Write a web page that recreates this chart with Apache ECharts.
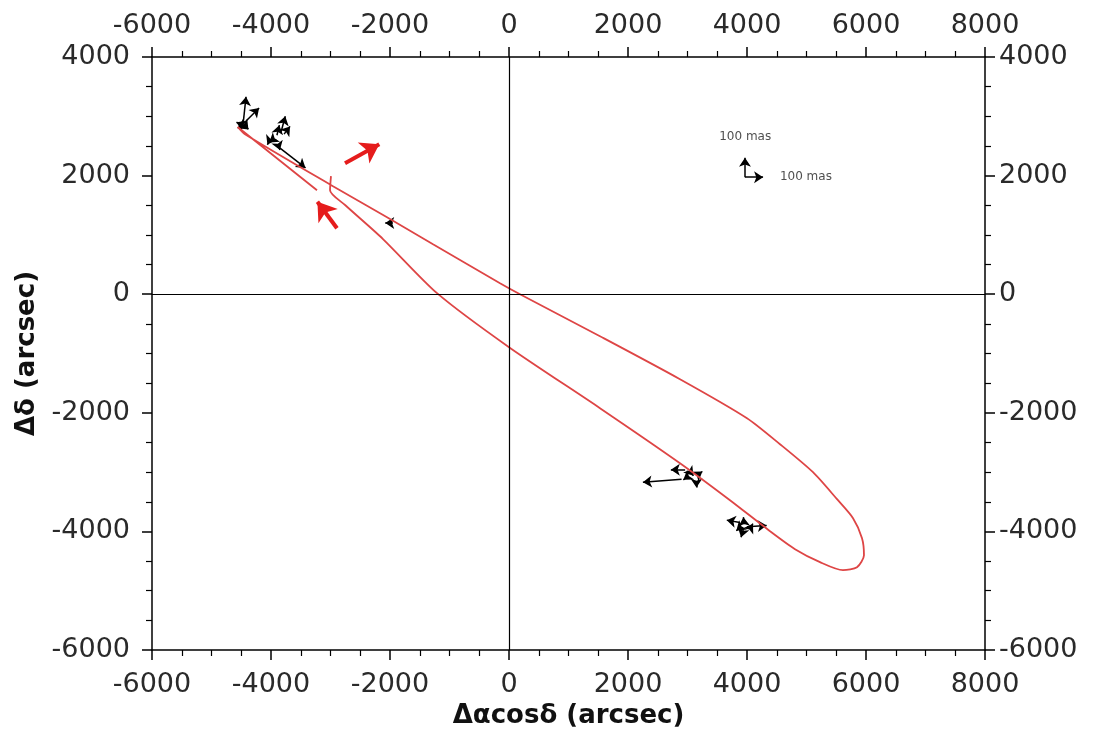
<!DOCTYPE html>
<html lang="en">
<head>
<meta charset="UTF-8" />
<title>orbit</title>
<script src="https://cdn.jsdelivr.net/npm/echarts@6/dist/echarts.min.js"></script>
<style>
  html, body { margin: 0; padding: 0; background: #fff; }
  #main { width: 1095px; height: 729px; }
</style>
</head>
<body>
<div id="main"></div>
<script>
// apparent orbit (arcsec), in drawing order
var orbit = [
  [-3227, 1754], [-4560, 2820], [-4437, 2698], [-2958, 1821], [-2050, 1298],
  [-1277, 843], [-151, 186], [185, 0], [1529, -708], [2874, -1433],
  [4000, -2091], [4555, -2530], [5109, -3002], [5513, -3457], [5782, -3777],
  [5933, -4115], [5966, -4401], [5849, -4604], [5613, -4654], [5227, -4519],
  [4807, -4300], [4387, -3997], [3714, -3474], [2874, -2850], [1529, -1922],
  [0, -894], [-1210, 17], [-2118, 930], [-2750, 1500], [-3008, 1754], [-2992, 1990]
];

// measured offsets with their motion vectors: x0, y0, x1, y1
var vectors = [
  [-4470, 2860, -4420, 3330], [-4460, 2880, -4200, 3140], [-4520, 2870, -4580, 2900],
  [-4430, 2840, -4380, 2780], [-4500, 2830, -4560, 2800],
  [-3830, 2740, -3760, 3000], [-3780, 2700, -3680, 2830], [-3900, 2680, -3860, 2850],
  [-3950, 2620, -4030, 2560], [-3880, 2520, -3850, 2430], [-3870, 2480, -3420, 2130],
  [-4030, 2580, -4060, 2520],
  [-1950, 1200, -2080, 1200],
  [2900, -3120, 2250, -3170], [2960, -2960, 2720, -2960], [3150, -3060, 3250, -2990],
  [3150, -3150, 3150, -3260], [3000, -3080, 2930, -3130], [3050, -3000, 3100, -3060],
  [3880, -3850, 3660, -3810], [3950, -3880, 3940, -3760], [4000, -3920, 4330, -3900],
  [3940, -3960, 3900, -4100], [3900, -3920, 3820, -3990], [4050, -3950, 4100, -3870]
];

// 100 mas scale arrows
var scaleVectors = [
  [3966, 1973, 3966, 2300],
  [3966, 1973, 4270, 1973]
];
var scaleLabels = [
  [3970, 2660, '100 mas'],
  [4990, 1973, '100 mas']
];

// direction-of-motion arrows
var motionArrows = [
  [-2756, 2209, -2180, 2530],
  [-2891, 1113, -3220, 1560]
];

var xMin = -6000, xMax = 8000, yMin = -6000, yMax = 4000, step = 2000;

var font = 'DejaVu Sans';
var labelStyle = {
  color: '#2a2a2a', fontSize: 27, fontFamily: font,
  formatter: function (v) { return String(v); }
};

function toLines(list) {
  return list.map(function (v) { return { coords: [[v[0], v[1]], [v[2], v[3]]] }; });
}

function xAxisDef(pos, withName, margin) {
  return {
    type: 'value', position: pos, min: xMin, max: xMax, interval: step,
    name: withName ? 'Δαcosδ (arcsec)' : '',
    nameLocation: 'middle', nameGap: 49,
    nameTextStyle: { color: '#111', fontSize: 26, fontWeight: 'bold', fontFamily: font },
    axisLine: { onZero: false, lineStyle: { color: '#000', width: 1.5 } },
    axisTick: { inside: false, length: 10, lineStyle: { color: '#000', width: 1.5 } },
    minorTick: { show: true, splitNumber: 4, length: 6, lineStyle: { color: '#000', width: 1.2 } },
    axisLabel: Object.assign({ margin: margin }, labelStyle),
    splitLine: { show: false }
  };
}

function yAxisDef(pos, withName, margin) {
  return {
    type: 'value', position: pos, min: yMin, max: yMax, interval: step,
    name: withName ? 'Δδ (arcsec)' : '',
    nameLocation: 'middle', nameGap: 112, nameRotate: 90,
    nameTextStyle: { color: '#111', fontSize: 26, fontWeight: 'bold', fontFamily: font },
    axisLine: { onZero: false, lineStyle: { color: '#000', width: 1.5 } },
    axisTick: { inside: false, length: 10, lineStyle: { color: '#000', width: 1.5 } },
    minorTick: { show: true, splitNumber: 4, length: 6, lineStyle: { color: '#000', width: 1.2 } },
    axisLabel: Object.assign({ margin: margin }, labelStyle),
    splitLine: { show: false }
  };
}

var myChart = echarts.init(document.getElementById('main'));
var option = {
  animation: false,
  backgroundColor: '#fff',
  grid: { left: 152, right: 110, top: 57, bottom: 79, containLabel: false, outerBoundsMode: 'none' },
  xAxis: [xAxisDef('bottom', true, 21), xAxisDef('top', false, 18)],
  yAxis: [yAxisDef('left', true, 22), yAxisDef('right', false, 14)],
  series: [
    {
      // zero lines
      type: 'line', xAxisIndex: 0, yAxisIndex: 0, data: [], silent: true,
      markLine: {
        silent: true, symbol: 'none', label: { show: false },
        lineStyle: { color: '#000', width: 1.2, type: 'solid' },
        data: [{ xAxis: 0 }, { yAxis: 0 }]
      }
    },
    {
      name: 'orbit', type: 'line', xAxisIndex: 0, yAxisIndex: 0,
      data: orbit, showSymbol: false, smooth: 0.25,
      lineStyle: { color: '#de4545', width: 1.8 }
    },
    {
      type: 'lines', coordinateSystem: 'cartesian2d', xAxisIndex: 0, yAxisIndex: 0,
      symbol: ['none', 'arrow'], symbolSize: 9,
      lineStyle: { color: '#000', width: 1.5, opacity: 1 },
      data: toLines(vectors.concat(scaleVectors))
    },
    {
      type: 'lines', coordinateSystem: 'cartesian2d', xAxisIndex: 0, yAxisIndex: 0,
      symbol: ['none', 'arrow'], symbolSize: 18,
      lineStyle: { color: '#e51c1c', width: 4, opacity: 1 },
      data: toLines(motionArrows)
    },
    {
      type: 'scatter', xAxisIndex: 0, yAxisIndex: 0, symbolSize: 0,
      label: {
        show: true, position: 'inside', color: '#222', fontSize: 12, fontFamily: font,
        formatter: function (p) { return p.data[2]; }
      },
      data: scaleLabels
    }
  ]
};
myChart.setOption(option);
</script>
</body>
</html>
